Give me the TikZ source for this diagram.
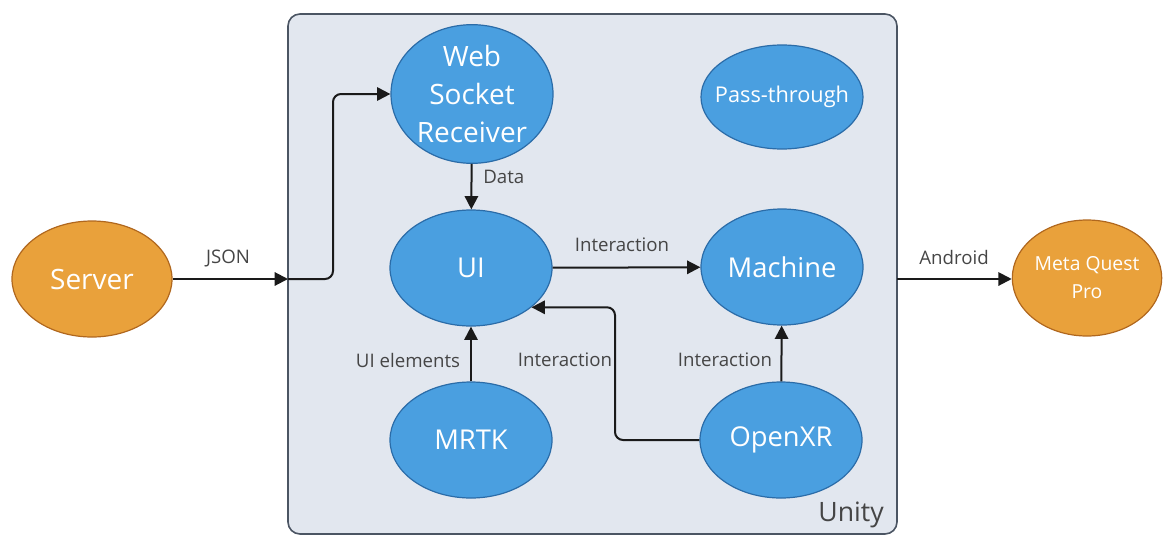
\documentclass[tikz,border=0pt]{standalone}
\usepackage{fontspec}
\setmainfont{Open Sans}
\usetikzlibrary{shapes.geometric,arrows.meta}
\definecolor{nodeblue}{HTML}{4A9FE0}
\definecolor{blueline}{HTML}{2B6CA8}
\definecolor{nodeorange}{HTML}{E9A13B}
\definecolor{orangeline}{HTML}{B0671E}
\definecolor{boxfill}{HTML}{E2E7EF}
\definecolor{boxline}{HTML}{4B5563}
\definecolor{labelgray}{HTML}{454545}
\definecolor{linecol}{HTML}{1A1A1A}
\begin{document}
\begin{tikzpicture}[x=0.75pt,y=-0.75pt,
  ell/.style={ellipse, line width=0.9pt, inner sep=0pt, text=white, align=center,
    minimum width=121.5pt, minimum height=87pt, font=\fontsize{20.5}{28}\selectfont},
  blueell/.style={ell, draw=blueline, fill=nodeblue},
  orangeell/.style={ell, draw=orangeline, fill=nodeorange},
  conn/.style={draw=linecol, line width=1.5pt, -{Triangle[length=10pt,width=10pt]}, rounded corners=6pt},
  lbl/.style={text=labelgray, font=\fontsize{14}{16}\selectfont, inner sep=0pt}
]
\useasboundingbox (0,0) rectangle (1163,536);
% Unity container
\draw[fill=boxfill, draw=boxline, line width=1.2pt, rounded corners=9pt] (288,14) rectangle (897,534);
\node[text=labelgray, font=\fontsize{20}{24}\selectfont, anchor=south east, inner sep=0pt] (unity) at (884,528) {Unity};

% nodes
\node[orangeell, minimum width=120pt, font=\fontsize{21}{28}\selectfont] (server) at (92,279) {Server};
\node[orangeell, minimum width=112pt, inner xsep=-20pt, font=\fontsize{14.5}{21}\selectfont] (mqp) at (1087,278) {Meta Quest\\Pro};
\node[blueell, minimum height=104pt, font=\fontsize{21}{28.5}\selectfont] (ws) at (472,94) {Web\\Socket\\Receiver};
\node[blueell, minimum height=78pt, inner xsep=-20pt, font=\fontsize{16.3}{20}\selectfont] (pass) at (782,97) {Pass-through};
\node[blueell] (ui) at (471,268) {UI};
\node[blueell] (machine) at (782,267) {Machine};
\node[blueell] (mrtk) at (471,440) {MRTK};
\node[blueell] (openxr) at (781,440) {OpenXR};

% boundary points
\coordinate (jin) at (288,279);
\coordinate (aout) at (897,279);

% connectors
\draw[conn] (server.east |- jin) -- (jin);
\draw[conn] (jin) -- (333,279) |- (ws.west);
\draw[conn] (ws) -- (ui) ;
\draw[conn] (ui) -- (machine);
\draw[conn] (mrtk) -- (ui);
\draw[conn] (openxr) -- (machine);
\draw[conn] (openxr.west) -- (615,440) |- (ui.-33);
\draw[conn] (aout) -- (mqp.west |- aout);

% labels
\node[lbl] (ljson) at (228,258) {JSON};
\node[lbl, anchor=west] (ldata) at (483,177) {Data};
\node[lbl] (lint1) at (622,245) {Interaction};
\node[lbl] (luiel) at (408,360) {UI elements};
\node[lbl] (lint2) at (565,360) {Interaction};
\node[lbl] (lint3) at (725,360) {Interaction};
\node[lbl] (landroid) at (954,257) {Android};
\end{tikzpicture}
\end{document}
